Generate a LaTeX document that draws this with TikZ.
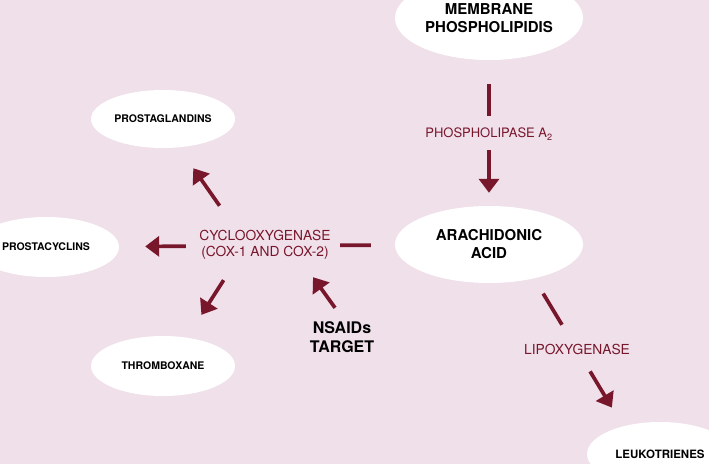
\documentclass[tikz,border=0pt]{standalone}
\usepackage{fontspec}
\setmainfont{TeX Gyre Heros}
\usetikzlibrary{shapes.geometric,arrows.meta}
\definecolor{pathred}{RGB}{120, 22, 44}
\definecolor{pagepink}{RGB}{240, 224, 234}

\begin{document}
\begin{tikzpicture}[x=1pt, y=-1pt,
    blob/.style={ellipse, fill=white, inner sep=0pt, align=center,
      font=\bfseries\fontsize{10.5}{12}\selectfont},
    bigblob/.style={blob, font=\bfseries\fontsize{15}{18}\selectfont},
    enzyme/.style={text=pathred, inner sep=0pt, align=center,
      font=\fontsize{13.8}{16}\selectfont},
    link/.style={pathred, line width=3.7pt},
    arr/.style={link, -{Triangle[width=20pt, length=14pt]}}]
    \clip (0,0) rectangle (709,464);
    \fill[pagepink] (0,0) rectangle (709,464);

    % Lipids and their products
    \node[bigblob, minimum width=188pt, minimum height=84pt] (mem) at (489,18) {MEMBRANE\\PHOSPHOLIPIDIS};
    \node[bigblob, minimum width=188pt, minimum height=77pt] (ara) at (489,244.5) {ARACHIDONIC\\ACID};
    \node[blob, minimum width=144pt, minimum height=58pt] (prosg) at (163,119) {PROSTAGLANDINS};
    \node[blob, minimum width=146pt, minimum height=60pt] (prosc) at (46,247) {PROSTACYCLINS};
    \node[blob, minimum width=144pt, minimum height=60pt] (thrx) at (163,366) {THROMBOXANE};
    \node[blob, minimum width=146pt, minimum height=64pt, font=\bfseries\fontsize{11.5}{13}\selectfont] (leuk) at (660,454) {LEUKOTRIENES};

    % Enzymes
    \node[enzyme, anchor=base, font=\fontsize{13}{16}\selectfont] (pla) at (489,137.7) {PHOSPHOLIPASE A\textsubscript{2}};
    \node[enzyme, minimum width=132pt, minimum height=30pt] (cox) at (265,245) {CYCLOOXYGENASE\\(COX-1 AND COX-2)};
    \node[enzyme] (lox) at (577,349) {LIPOXYGENASE};
    \node[inner sep=0pt, align=center, minimum width=66pt, minimum height=31pt,
      font=\bfseries\fontsize{16}{19}\selectfont] (nsaid) at (342,337.5) {NSAIDs\\TARGET};

    % Phospholipase step
    \draw[link, shorten <=24pt, shorten >=90pt] (mem) -- (ara);
    \draw[arr, shorten <=90pt, shorten >=13pt] (mem) -- (ara);

    % Cyclooxygenase step
    \draw[link, shorten <=24pt, shorten >=221pt] (ara) -- (prosc);
    \draw[arr, shorten <=209pt, shorten >=26pt] (ara) -- (prosc);
    \draw[arr, shorten <=29.4pt, shorten >=25.3pt] (cox.152.7) -- (prosg.-61.4);
    \draw[arr, shorten <=23.7pt, shorten >=26.9pt] (cox.208) -- (thrx.50.4);
    \draw[arr, shorten <=17.2pt, shorten >=20.9pt] (nsaid.79) -- (cox.-23.3);

    % Lipoxygenase step
    \draw[link, shorten <=17.6pt, shorten >=118.4pt] (ara.-37) -- (leuk.143);
    \draw[arr, shorten <=108.5pt, shorten >=21.7pt] (ara.-37) -- (leuk.143);
\end{tikzpicture}
\end{document}
